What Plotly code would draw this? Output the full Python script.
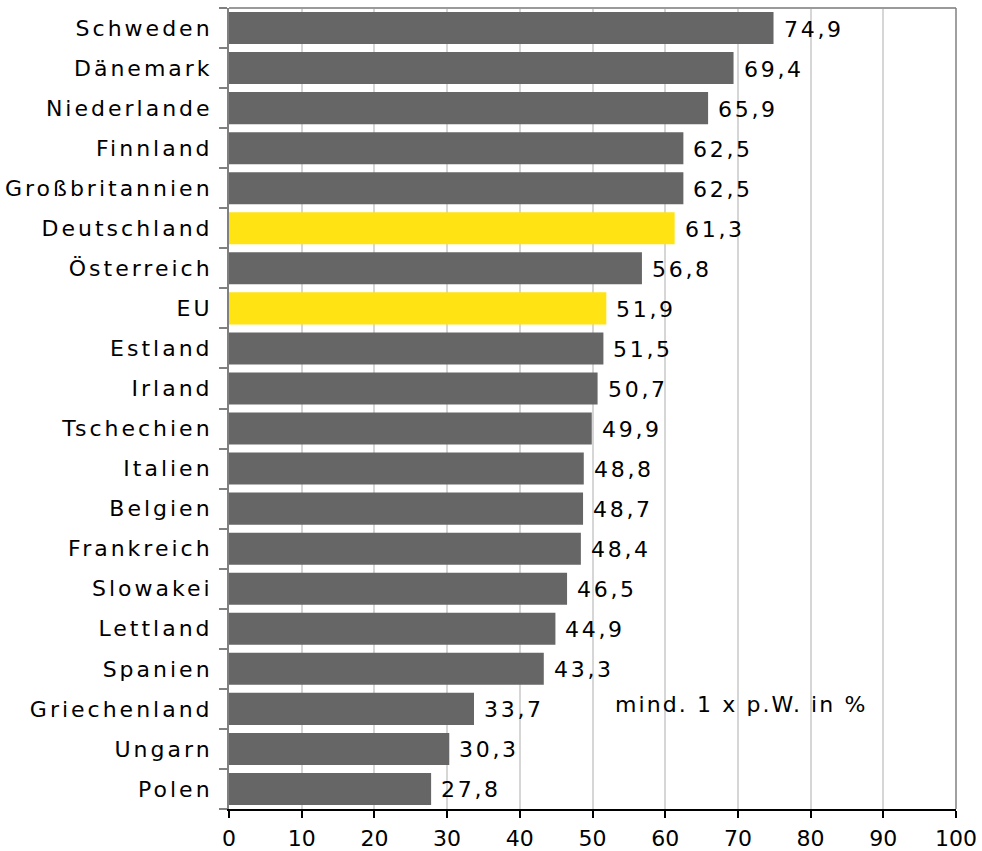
import plotly.graph_objects as go

countries = ["Schweden", "Dänemark", "Niederlande", "Finnland", "Großbritannien",
             "Deutschland", "Österreich", "EU", "Estland", "Irland", "Tschechien",
             "Italien", "Belgien", "Frankreich", "Slowakei", "Lettland", "Spanien",
             "Griechenland", "Ungarn", "Polen"]
values = [74.9, 69.4, 65.9, 62.5, 62.5, 61.3, 56.8, 51.9, 51.5, 50.7, 49.9,
          48.8, 48.7, 48.4, 46.5, 44.9, 43.3, 33.7, 30.3, 27.8]
highlight = {"Deutschland", "EU"}
x_ticks = [0, 10, 20, 30, 40, 50, 60, 70, 80, 90, 100]
note = "mind. 1 x p.W. in %"

colors = ["#FFE312" if c in highlight else "#666666" for c in countries]
labels = [f"{v:.1f}".replace(".", ",") for v in values]

font = "DejaVu Sans"
fs = 22

fig = go.Figure(go.Bar(
    y=countries, x=values, orientation="h",
    marker=dict(color=colors, line=dict(width=0)),
    hoverinfo="skip",
))

annotations = [dict(text=lab, x=v, y=c, xref="x", yref="y", xanchor="left",
                    align="left", yanchor="middle", xshift=8, yshift=-1,
                    showarrow=False,
                    font=dict(family=font, size=fs, color="#000000"))
               for c, v, lab in zip(countries, values, labels)]
annotations.append(dict(text=note, x=52.8, y=0.131, xref="x", yref="paper",
                        xanchor="left", align="left", yanchor="middle",
                        showarrow=False,
                        font=dict(family=font, size=fs, color="#000000")))

fig.update_layout(
    width=982, height=851,
    margin=dict(l=229, r=26, t=8, b=42),
    plot_bgcolor="white", paper_bgcolor="white",
    bargap=0.2,
    showlegend=False,
    font=dict(family=font, size=fs, color="#000000"),
    xaxis=dict(range=[0, 100], tickvals=x_ticks, showgrid=True, gridcolor="#D6D6D6",
               gridwidth=1.5, zeroline=False, showline=True, linecolor="#000000",
               linewidth=1.5, ticks="outside", ticklen=7, tickcolor="#000000",
               tickwidth=1.5, automargin=False, ticklabelstandoff=2,
               tickfont=dict(family=font, size=fs)),
    yaxis=dict(categoryorder="array", categoryarray=countries[::-1],
               range=[-0.5, 19.5], showgrid=False, showline=True,
               linecolor="#808080", linewidth=2, ticks="outside", ticklen=8,
               tickcolor="#808080", tickwidth=1.5, tickson="boundaries",
               automargin=False, ticklabelstandoff=10,
               tickfont=dict(family=font, size=fs)),
    shapes=[dict(type="line", xref="paper", yref="paper", x0=0, x1=1, y0=1, y1=1,
                 line=dict(color="#9A9A9A", width=2)),
            dict(type="line", xref="paper", yref="paper", x0=1, x1=1, y0=0, y1=1,
                 line=dict(color="#808080", width=1.5))],
    annotations=annotations,
)

post = """
document.body.style.margin = '0';
var gd = document.getElementById('{plot_id}');
function applySpacing(){
  gd.querySelectorAll('g.ytick text').forEach(function(t){ t.style.letterSpacing = '3px'; });
  var anns = gd.querySelectorAll('text.annotation-text');
  anns.forEach(function(t, i){
    t.style.letterSpacing = (i === anns.length - 1) ? '2.1px' : '2.7px';
  });
}
applySpacing();
if (gd.on) { gd.on('plotly_afterplot', applySpacing); }
"""

fig.write_html("out.html", post_script=post, config={"displayModeBar": False})
